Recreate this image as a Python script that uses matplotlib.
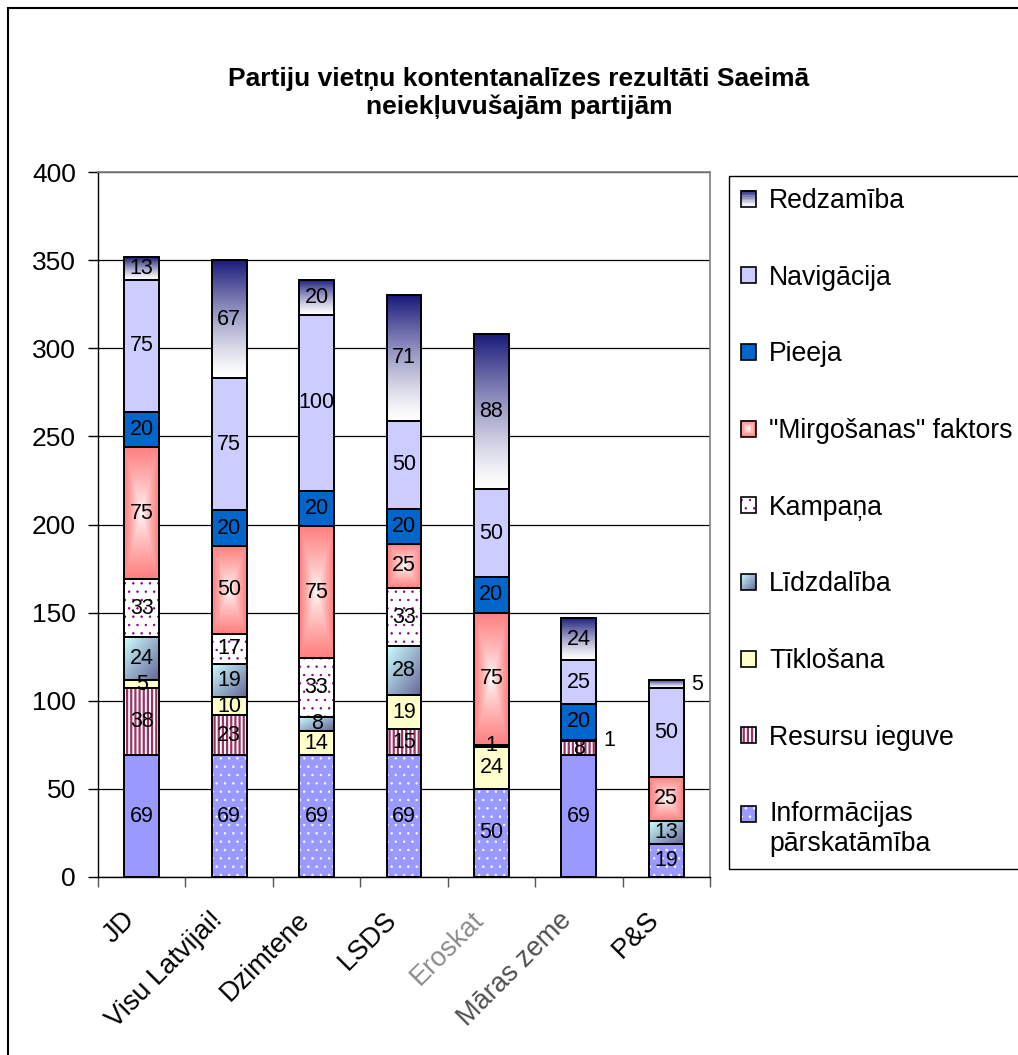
import numpy as np
import matplotlib.pyplot as plt
import matplotlib.transforms as mtransforms
from matplotlib.patches import Rectangle
from matplotlib.legend_handler import HandlerBase

plt.rcParams['font.family'] = ['Liberation Sans', 'DejaVu Sans']
plt.rcParams['hatch.linewidth'] = 1.6

# Data
categories = ['JD', 'Visu Latvijai!', 'Dzimtene', 'LSDS', 'Eroskat', 'Māras zeme', 'P&S']
label_colors = ['black', 'black', 'black', 'black', '#8c8c8c', '#505050', 'black']

# series from bottom to top of each stack
informacijas = [69, 69, 69, 69, 50, 69, 19]
resursu = [38, 23, 0, 15, 0, 8, 0]
tiklosana = [5, 10, 14, 19, 24, 0, 0]
lidzdaliba = [24, 19, 8, 28, 0, 1, 13]
kampana = [33, 17, 33, 33, 1, 0, 0]
mirgosana = [75, 50, 75, 25, 75, 0, 25]
pieeja = [20, 20, 20, 20, 20, 20, 0]
navigacija = [75, 75, 100, 50, 50, 25, 50]
redzamiba = [13, 67, 20, 71, 88, 24, 5]

series = [informacijas, resursu, tiklosana, lidzdaliba, kampana,
          mirgosana, pieeja, navigacija, redzamiba]
series_names = ['Informācijas\npārskatāmība', 'Resursu ieguve', 'Tīklošana',
                'Līdzdalība', 'Kampaņa', '"Mirgošanas" faktors', 'Pieeja',
                'Navigācija', 'Redzamība']

# info bars drawn with white dots
info_dotted = [False, True, True, True, True, False, True]
# labels placed beside the bar: (series index, category index)
outside_labels = [(3, 5), (8, 6)]


def rgb(h):
    h = h.lstrip('#')
    return np.array([int(h[i:i + 2], 16) / 255 for i in (0, 2, 4)])


def grad_redz(u, v):
    t = np.asarray(v)[..., None] ** 1.3
    return rgb('#ffffff') * (1 - t) + rgb('#1a1a7a') * t


def grad_mirg(u, v):
    d = np.maximum(np.abs(2 * np.asarray(u) - 1), np.abs(2 * np.asarray(v) - 1))
    t = (d ** 0.8)[..., None]
    return rgb('#ffffff') * (1 - t) + rgb('#ff7f7f') * t


def grad_lidz(u, v):
    t = ((np.asarray(u) + 1 - np.asarray(v)) / 2)[..., None]
    return rgb('#ccffff') * (1 - t) + rgb('#666699') * t


styles = [
    dict(kind='hatch', face='#9999ff', hcolor='white', hatch='..', hlw=0.5),
    dict(kind='hatch', face='white', hcolor='#993366', hatch='||||', hlw=1.6),
    dict(kind='solid', face='#ffffcc'),
    dict(kind='grad', func=grad_lidz),
    dict(kind='hatch', face='white', hcolor='#800080', hatch='..', hlw=0.5),
    dict(kind='grad', func=grad_mirg),
    dict(kind='solid', face='#0066cc'),
    dict(kind='solid', face='#ccccff'),
    dict(kind='grad', func=grad_redz),
]


def set_hlw(patches, lw):
    for p in patches:
        if hasattr(p, 'set_hatch_linewidth'):
            p.set_hatch_linewidth(lw)


fig = plt.figure(figsize=(10.18, 10.55), dpi=100)
ax = fig.add_axes([98 / 1018, 1 - 877 / 1055, 612 / 1018, 705 / 1055])

x = np.arange(len(categories))
width = 0.4
bottom = np.zeros(len(categories))

for si, (vals, st) in enumerate(zip(series, styles)):
    vals = np.array(vals, dtype=float)
    if st['kind'] == 'solid':
        ax.bar(x, vals, width, bottom=bottom, color=st['face'], linewidth=0, zorder=2)
    elif st['kind'] == 'hatch':
        with plt.rc_context({'hatch.linewidth': st['hlw']}):
            if si == 0:
                for i in range(len(x)):
                    b = ax.bar(x[i], vals[i], width, bottom=bottom[i], color=st['face'],
                               edgecolor=st['hcolor'] if info_dotted[i] else st['face'],
                               hatch=st['hatch'] if info_dotted[i] else None,
                               linewidth=0, zorder=2)
                    set_hlw(b, st['hlw'])
            else:
                b = ax.bar(x, vals, width, bottom=bottom, color=st['face'],
                           edgecolor=st['hcolor'], hatch=st['hatch'], linewidth=0, zorder=2)
                set_hlw(b, st['hlw'])
    else:
        bars = ax.bar(x, vals, width, bottom=bottom, color='none', linewidth=0, zorder=2)
        uu, vv = np.meshgrid(np.linspace(0, 1, 40), np.linspace(0, 1, 80))
        img = np.clip(st['func'](uu, vv), 0, 1)
        for r, val in zip(bars, vals):
            if val <= 0:
                continue
            x0, y0 = r.get_x(), r.get_y()
            ax.imshow(img, extent=(x0, x0 + r.get_width(), y0, y0 + r.get_height()),
                      origin='lower', aspect='auto', interpolation='bilinear', zorder=2)
    # outlines
    ax.bar(x, np.where(vals > 0, vals, np.nan), width, bottom=bottom, fill=False,
           edgecolor='black', linewidth=1.4, zorder=3)
    # value labels
    for i in range(len(x)):
        if vals[i] <= 0:
            continue
        yc = bottom[i] + vals[i] / 2
        if (si, i) in outside_labels:
            ax.text(x[i] + width / 2 + 0.08, yc, f'{int(vals[i])}', ha='left',
                    va='center', fontsize=15.5, zorder=4)
        else:
            ax.text(x[i], yc, f'{int(vals[i])}', ha='center', va='center',
                    fontsize=15.5, zorder=4)
    bottom = bottom + vals

ax.set_xlim(-0.5, len(categories) - 0.5)
ax.set_ylim(0, 400)
ax.set_yticks(np.arange(0, 401, 50))
ax.yaxis.grid(True, color='black', linewidth=0.9)
ax.set_axisbelow(True)

for s in ['top', 'right']:
    ax.spines[s].set_color('#808080')
    ax.spines[s].set_linewidth(1.2)
for s in ['left', 'bottom']:
    ax.spines[s].set_color('black')
    ax.spines[s].set_linewidth(1.0)

ax.tick_params(axis='y', direction='out', length=7, width=1, pad=9, labelsize=19)
ax.set_xticks(x)
ax.set_xticks(np.arange(-0.5, len(categories), 1), minor=True)
ax.tick_params(axis='x', which='major', length=0, pad=28, labelsize=19.5)
ax.tick_params(axis='x', which='minor', length=7, width=1, color='#555555')
ax.set_xticklabels(categories, rotation=45, ha='right', va='center',
                   rotation_mode='anchor')
offset = mtransforms.ScaledTranslation(-11 / 100, 0, fig.dpi_scale_trans)
for lbl, c in zip(ax.get_xticklabels(), label_colors):
    lbl.set_transform(lbl.get_transform() + offset)
    lbl.set_color(c)

# Title
fig.text(519 / 1018, 1 - 93 / 1055,
         'Partiju vietņu kontentanalīzes rezultāti Saeimā\nneiekļuvušajām partijām',
         ha='center', va='center', fontsize=19, fontweight='bold', linespacing=1.15)


# Legend with custom swatches
class SwatchHandler(HandlerBase):
    def __init__(self, style, yshift=0.0):
        super().__init__()
        self.style = style
        self.yshift = yshift

    def create_artists(self, legend, orig_handle, xdescent, ydescent, width,
                       height, fontsize, trans):
        x0, y0 = -xdescent, -ydescent + self.yshift * fontsize
        st = self.style
        arts = []
        if st['kind'] == 'grad':
            n = 10
            for i in range(n):
                for j in range(n):
                    c = np.clip(st['func'](np.array((i + 0.5) / n), np.array((j + 0.5) / n)), 0, 1)
                    arts.append(Rectangle((x0 + i * width / n, y0 + j * height / n),
                                          width / n * 1.05, height / n * 1.05,
                                          facecolor=tuple(c), edgecolor='none',
                                          antialiased=False, transform=trans))
        elif st['kind'] == 'hatch':
            with plt.rc_context({'hatch.linewidth': st['hlw']}):
                r = Rectangle((x0, y0), width, height, facecolor=st['face'],
                              edgecolor=st['hcolor'], hatch=st['hatch'],
                              linewidth=0, transform=trans)
            set_hlw([r], st['hlw'])
            arts.append(r)
        else:
            arts.append(Rectangle((x0, y0), width, height, facecolor=st['face'],
                                  edgecolor='none', transform=trans))
        arts.append(Rectangle((x0, y0), width, height, fill=False, edgecolor='black',
                              linewidth=1.2, transform=trans))
        return arts


handles = [Rectangle((0, 0), 1, 1) for _ in series_names]
hmap = {h: SwatchHandler(st, 0.6 if '\n' in name else 0.0)
        for h, st, name in zip(handles, styles, series_names)}
leg = fig.legend(handles[::-1], series_names[::-1], handler_map=hmap,
                 loc='upper left', bbox_to_anchor=(729 / 1018, 1 - 176 / 1055),
                 bbox_transform=fig.transFigure, borderaxespad=0, fontsize=19.2,
                 handlelength=0.55, handleheight=0.55, handletextpad=0.5,
                 labelspacing=1.9, borderpad=0.45, fancybox=False,
                 edgecolor='black', framealpha=1)
leg.get_frame().set_linewidth(1.0)

# outer chart border
fig.patches.append(Rectangle((8 / 1018, -0.1), 1.2, 1.1 - 8 / 1055, fill=False,
                             edgecolor='black', linewidth=1.5,
                             transform=fig.transFigure))

fig.savefig('out.png', dpi=100)
